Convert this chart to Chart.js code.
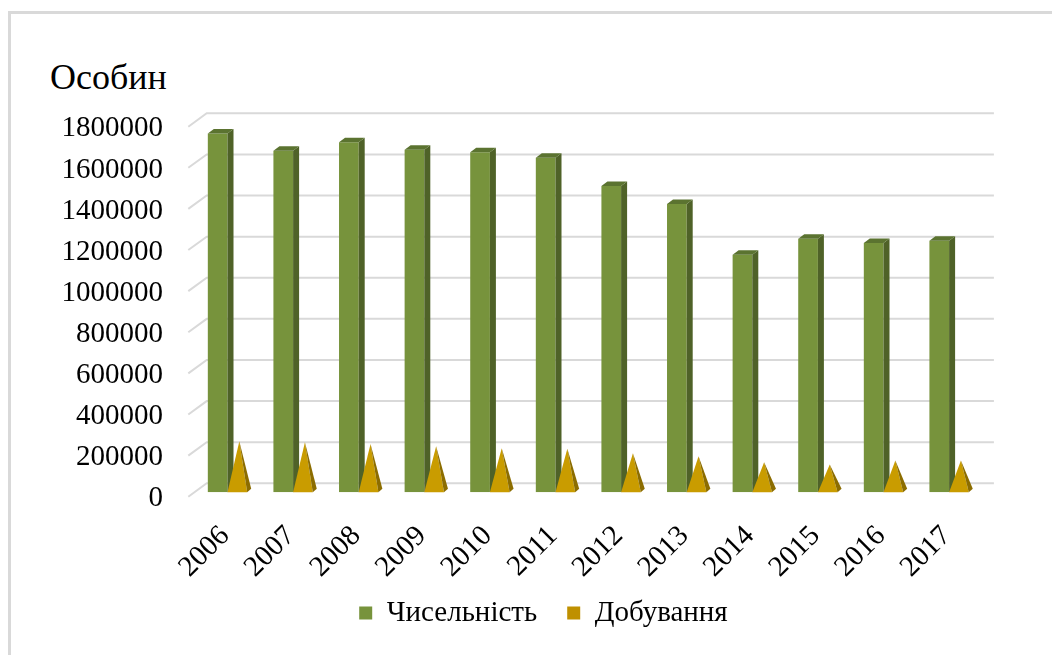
<!DOCTYPE html>
<html lang="uk">
<head>
    <meta charset="UTF-8">
    <title>Чисельність і добування</title>
    <script src="https://cdn.jsdelivr.net/npm/chart.js"></script>
    <style>
        html, body {
            margin: 0;
            padding: 0;
            background: #fff;
            overflow: hidden;
        }
        #frame {
            position: absolute;
            left: 8px;
            top: 11px;
            width: 1100px;
            height: 700px;
            border-top: 3px solid #d9d9d9;
            border-left: 3px solid #d9d9d9;
        }
        #unit {
            position: absolute;
            left: 50px;
            top: 59px;
            font-family: "Liberation Serif", serif;
            font-size: 36px;
            line-height: 36px;
            color: #000;
        }
        #chartContainer {
            position: absolute;
            left: 0;
            top: 0;
            width: 1052px;
            height: 655px;
        }
    </style>
</head>
<body>

<div id="frame"></div>
<div id="unit">Особин</div>
<div id="chartContainer">
    <canvas id="popChart"></canvas>
</div>

<script>
    const years = ['2006', '2007', '2008', '2009', '2010', '2011',
                   '2012', '2013', '2014', '2015', '2016', '2017'];
    const population = [1745000, 1662000, 1703000, 1666000, 1654000, 1627000,
                        1490000, 1403000, 1156000, 1233000, 1213000, 1224000];
    const harvest = [240000, 235000, 227000, 216000, 206000, 203000,
                     182000, 167000, 138000, 127000, 146000, 146000];
    const seriesNames = ['Чисельність', 'Добування'];

    const serif = '"Liberation Serif", "Times New Roman", serif';

    // fake 3D: depth offsets for bars, pyramids and the back wall
    const BAR_DX = 6, BAR_DY = 4.5;
    const PYR_DX = 4, PYR_DY = 3.5;
    const LEGEND_SHIFT = 32.5;

    const wallGrid = {
        id: 'wallGrid',
        afterLayout(chart) {
            // legend sits a bit right of the canvas centre in the original
            chart.legend.left += LEGEND_SHIFT;
            chart.legend.right += LEGEND_SHIFT;
            // rotated year labels hang a little below the axis box
            chart.scales.x.bottom += 14;
        },
        beforeDatasetsDraw(chart) {
            const ctx = chart.ctx;
            const yScale = chart.scales.y;
            const {left, right} = chart.chartArea;
            ctx.save();
            ctx.strokeStyle = '#d9d9d9';
            ctx.lineWidth = 2;
            yScale.ticks.forEach(t => {
                const py = yScale.getPixelForValue(t.value);
                ctx.beginPath();
                ctx.moveTo(left - 6.4, py + 4.4);
                ctx.lineTo(left + 12, py - 9);
                ctx.lineTo(right + 12, py - 9);
                ctx.stroke();
            });
            ctx.restore();
        }
    };

    const solids = {
        id: 'solids',
        beforeDatasetDraw(chart, args) {
            // pyramids are drawn by hand below
            if (args.index === 1) return false;
        },
        afterDatasetDraw(chart, args) {
            if (args.index !== 0) return;
            const ctx = chart.ctx;
            ctx.save();
            args.meta.data.forEach(bar => {
                const {x, y, base, width} = bar.getProps(['x', 'y', 'base', 'width'], true);
                const l = x - width / 2, r = x + width / 2;
                ctx.fillStyle = '#4f6228';
                ctx.beginPath();
                ctx.moveTo(r, y);
                ctx.lineTo(r + BAR_DX, y - BAR_DY);
                ctx.lineTo(r + BAR_DX, base - BAR_DY);
                ctx.lineTo(r, base);
                ctx.closePath();
                ctx.fill();
                ctx.fillStyle = '#5b7330';
                ctx.beginPath();
                ctx.moveTo(l, y);
                ctx.lineTo(l + BAR_DX, y - BAR_DY);
                ctx.lineTo(r + BAR_DX, y - BAR_DY);
                ctx.lineTo(r, y);
                ctx.closePath();
                ctx.fill();
            });
            ctx.restore();
        },
        afterDatasetsDraw(chart) {
            const ctx = chart.ctx;
            const meta = chart.getDatasetMeta(1);
            ctx.save();
            meta.data.forEach(bar => {
                const {x, y, base, width} = bar.getProps(['x', 'y', 'base', 'width'], true);
                const l = x - width / 2, r = x + width / 2;
                const ax = x + PYR_DX / 2, ay = y - PYR_DY / 2;
                ctx.fillStyle = '#c99c00';
                ctx.beginPath();
                ctx.moveTo(l, base);
                ctx.lineTo(r, base);
                ctx.lineTo(ax, ay);
                ctx.closePath();
                ctx.fill();
                ctx.fillStyle = '#8c6d00';
                ctx.beginPath();
                ctx.moveTo(r, base);
                ctx.lineTo(r + PYR_DX, base - PYR_DY);
                ctx.lineTo(ax, ay);
                ctx.closePath();
                ctx.fill();
            });
            ctx.restore();
        }
    };

    const ctx = document.getElementById('popChart').getContext('2d');
    const popChart = new Chart(ctx, {
        type: 'bar',
        data: {
            labels: years,
            datasets: [
                {
                    label: seriesNames[0],
                    data: population,
                    backgroundColor: '#77933c',
                    borderWidth: 0
                },
                {
                    label: seriesNames[1],
                    data: harvest,
                    backgroundColor: '#bf9000',
                    borderWidth: 0
                }
            ]
        },
        options: {
            responsive: true,
            maintainAspectRatio: false,
            animation: false,
            datasets: {
                bar: {
                    categoryPercentage: 0.6,
                    barPercentage: 1.0
                }
            },
            layout: {
                padding: {left: 40, right: 70.1, top: 122.3, bottom: 17.5}
            },
            scales: {
                x: {
                    grid: {display: false, drawTicks: false},
                    border: {display: false},
                    afterFit(s) { s.height = 76.2; },
                    ticks: {
                        autoSkip: false,
                        minRotation: 45,
                        maxRotation: 45,
                        padding: 26.8,
                        labelOffset: -2.4,
                        color: '#000',
                        font: {family: serif, size: 29}
                    }
                },
                y: {
                    min: 0,
                    max: 1800000,
                    grid: {display: false, drawTicks: false},
                    border: {display: false},
                    afterFit(s) { s.width = 154.7; },
                    ticks: {
                        stepSize: 200000,
                        padding: 31.7,
                        labelOffset: 6.5,
                        color: '#000',
                        font: {family: serif, size: 29},
                        callback: v => String(v)
                    }
                }
            },
            plugins: {
                legend: {
                    display: true,
                    position: 'bottom',
                    labels: {
                        boxWidth: 13,
                        boxHeight: 13,
                        padding: 30,
                        color: '#000',
                        font: {family: serif, size: 29}
                    }
                },
                tooltip: {enabled: false}
            }
        },
        plugins: [wallGrid, solids]
    });
</script>

</body>
</html>
